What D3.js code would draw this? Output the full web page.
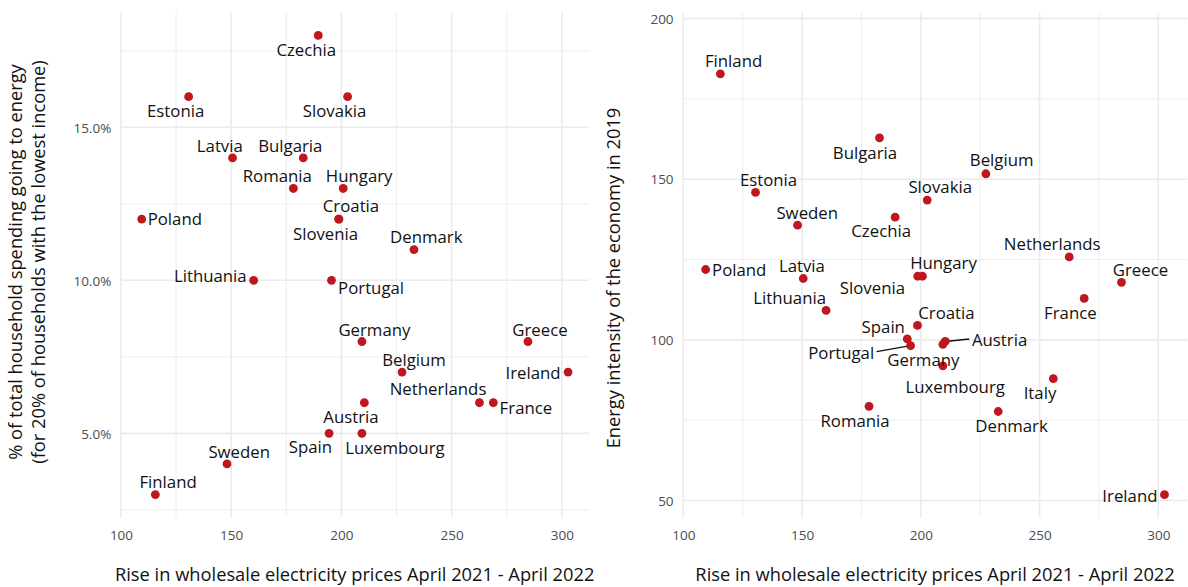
<!DOCTYPE html>
<html>
<head>
<meta charset="utf-8">
<script src="https://cdn.jsdelivr.net/npm/d3@7"></script>
<style>
  html, body { margin: 0; padding: 0; background: #fff; }
  svg { display: block; font-family: "Open Sans", "Noto Sans", sans-serif; }
</style>
</head>
<body>
<svg id="chart" width="1188" height="587"></svg>
<script>
// ---------------- DATA ----------------
// Left panel: rise in wholesale electricity price vs share of spending on energy (lowest 20%)
const leftCountries = ["Czechia","Estonia","Slovakia","Latvia","Bulgaria","Romania","Hungary","Poland","Croatia","Slovenia","Denmark","Lithuania","Portugal","Germany","Greece","Belgium","Ireland","Austria","Netherlands","France","Spain","Luxembourg","Sweden","Finland"];
const leftPriceRise  = [189.5,130.7,202.8,150.6,182.7,178.2,200.8,109.4,198.9,198.7,232.9,160.2,195.5,209.3,284.6,227.5,302.8,210.4,262.6,268.9,194.4,209.3,148.1,115.6];
const leftEnergyShare = [18,16,16,14,14,13,13,12,12,12,11,10,10,8,8,7,7,6,6,6,5,5,4,3];

// Right panel: rise in wholesale electricity price vs energy intensity 2019
const rightCountries = ["Finland","Bulgaria","Belgium","Estonia","Slovakia","Sweden","Czechia","Netherlands","Poland","Hungary","Slovenia","Latvia","Greece","France","Lithuania","Croatia","Spain","Portugal","Austria","Germany","Luxembourg","Italy","Romania","Denmark","Ireland"];
const rightPriceRise = [115.6,182.6,227.4,130.4,202.7,148.1,189.2,262.5,109.4,200.7,198.7,150.5,284.5,268.8,160.1,198.6,194.3,195.7,210.3,209.3,209.3,255.8,178.2,232.6,302.6];
const rightIntensity = [182.8,162.9,151.7,145.9,143.5,135.7,138.2,125.8,121.9,119.8,119.8,119.1,117.9,112.9,109.2,104.5,100.3,98.2,99.5,98.6,91.9,87.9,79.3,77.7,51.8];

// Axis ticks
const xTicks = [100,150,200,250,300];
const xMinor = [125,175,225,275];
const leftYTicks = [5,10,15];
const leftYMinor = [2.5,7.5,12.5,17.5];
const leftYTickLabels = ["5.0%","10.0%","15.0%"];
const rightYTicks = [50,100,150,200];
const rightYMinor = [75,125,175];

const xTitle = "Rise in wholesale electricity prices April 2021 - April 2022";
const leftYTitle = ["% of total household spending going to energy","(for 20% of households with the lowest income)"];
const rightYTitle = "Energy intensity of the economy in 2019";

// ---------------- LABEL LAYOUT (pixel offsets from point: dx, dy of text centre, anchor) ----------------
const leftLabelLayout = {
  Czechia:[-12,14,"middle"], Estonia:[-13,14,"middle"], Slovakia:[-13,14,"middle"],
  Latvia:[-12.7,-12,"middle"], Bulgaria:[-13,-12,"middle"], Romania:[-16,-12.7,"middle"],
  Hungary:[16,-12.7,"middle"], Poland:[6,0,"start"], Croatia:[12,-13,"middle"],
  Slovenia:[-13,14.7,"middle"], Denmark:[12.3,-12.4,"middle"], Lithuania:[-7,-4.7,"end"],
  Portugal:[6.6,8,"start"], Germany:[12.5,-12,"middle"], Greece:[12,-12,"middle"],
  Belgium:[12,-12,"middle"], Ireland:[-7.5,0.5,"end"], Austria:[-13.4,14,"middle"],
  Netherlands:[-41.4,-13.7,"middle"], France:[6.3,5,"start"], Spain:[-18.6,13.4,"middle"],
  Luxembourg:[33,14.4,"middle"], Sweden:[12.2,-12.4,"middle"], Finland:[12.7,-12.6,"middle"]
};
const rightLabelLayout = {
  Finland:[13.2,-12.7,"middle"], Bulgaria:[-14.5,15,"middle"], Belgium:[15.8,-13.4,"middle"],
  Estonia:[13,-12,"middle"], Slovakia:[13,-12.7,"middle"], Sweden:[9.7,-12.7,"middle"],
  Czechia:[-14,14,"middle"], Netherlands:[-17,-13,"middle"], Poland:[6.4,0.7,"start"],
  Hungary:[21,-13.4,"middle"], Slovenia:[-12.7,11.6,"end"], Latvia:[-1.3,-12.3,"middle"],
  Greece:[19,-12,"middle"], France:[-13.8,14.7,"middle"], Lithuania:[-36.4,-12.4,"middle"],
  Croatia:[29,-12.3,"middle"], Spain:[-24,-11.6,"middle"], Portugal:[-36.4,7.3,"end"],
  Austria:[26.7,-1.7,"start"], Germany:[-19.5,16,"middle"], Luxembourg:[12.3,20.7,"middle"],
  Italy:[-13.3,14.3,"middle"], Romania:[-14,14.3,"middle"], Denmark:[13.3,14.6,"middle"],
  Ireland:[-7,1,"end"]
};
const leaderLines = { Portugal:[-34,6], Austria:[24,-2.5] };

// ---------------- DRAW ----------------
const svg = d3.select("#chart");
const pointColor = "#c0161e";
const gridColor = "#ebebeb";
const labelSize = 16.8;
const titleSize = 18.3;
const tickSize = 13.5;
const capShift = 0.36 * labelSize;

function panel(opts) {
  const g = svg.append("g");
  const x = d3.scaleLinear().domain([99.7, 312.3]).range(opts.xRange);
  const y = d3.scaleLinear().domain(opts.yDomain).range([517.5, 12.5]);
  const [x0, x1] = opts.xRange;

  // minor grid
  g.selectAll(".xminor").data(xMinor).join("line")
    .attr("x1", d => x(d)).attr("x2", d => x(d)).attr("y1", 12.5).attr("y2", 517.5)
    .attr("stroke", gridColor).attr("stroke-width", 0.9);
  g.selectAll(".yminor").data(opts.yMinor).join("line")
    .attr("x1", x0).attr("x2", x1).attr("y1", d => y(d)).attr("y2", d => y(d))
    .attr("stroke", gridColor).attr("stroke-width", 0.9);
  // major grid
  g.selectAll(".xmajor").data(xTicks).join("line")
    .attr("x1", d => x(d)).attr("x2", d => x(d)).attr("y1", 12.5).attr("y2", 517.5)
    .attr("stroke", gridColor).attr("stroke-width", 1.6);
  g.selectAll(".ymajor").data(opts.yTicks).join("line")
    .attr("x1", x0).attr("x2", x1).attr("y1", d => y(d)).attr("y2", d => y(d))
    .attr("stroke", gridColor).attr("stroke-width", 1.6);

  // axes (labels only)
  const xAxis = d3.axisBottom(x).tickValues(xTicks).tickSize(0).tickPadding(0);
  const xg = g.append("g").attr("transform", "translate(0,517.5)").call(xAxis);
  xg.select(".domain").remove();
  xg.selectAll("text").attr("dy", null).attr("y", 22.5).attr("fill", "#4d4d4d")
    .style("font-size", tickSize + "px").style("font-family", "Open Sans");

  const yAxis = d3.axisLeft(y).tickValues(opts.yTicks).tickSize(0).tickPadding(0)
    .tickFormat((d, i) => opts.yTickLabels ? opts.yTickLabels[i] : d);
  const yg = g.append("g").attr("transform", `translate(${x0 - 9},0)`).call(yAxis);
  yg.select(".domain").remove();
  yg.selectAll("text").attr("dy", "0.35em").attr("fill", "#4d4d4d")
    .style("font-size", tickSize + "px").style("font-family", "Open Sans");

  // leader lines
  opts.countries.forEach((c, i) => {
    if (opts.leaders && opts.leaders[c]) {
      const px = x(opts.xs[i]), py = y(opts.ys[i]);
      const [lx, ly] = opts.leaders[c];
      g.append("line").attr("x1", px).attr("y1", py).attr("x2", px + lx).attr("y2", py + ly)
        .attr("stroke", "#111").attr("stroke-width", 1.4);
    }
  });

  // points
  g.selectAll("circle").data(opts.countries).join("circle")
    .attr("cx", (d, i) => x(opts.xs[i])).attr("cy", (d, i) => y(opts.ys[i]))
    .attr("r", 4.4).attr("fill", pointColor);

  // labels
  g.selectAll(".lbl").data(opts.countries).join("text")
    .attr("class", "lbl")
    .attr("x", (d, i) => x(opts.xs[i]) + opts.layout[d][0])
    .attr("y", (d, i) => y(opts.ys[i]) + opts.layout[d][1] + capShift)
    .attr("text-anchor", d => opts.layout[d][2])
    .attr("fill", "#111")
    .style("font-size", labelSize + "px")
    .text(d => d);

  // x title
  g.append("text").attr("x", (x0 + x1) / 2).attr("y", 580.5).attr("text-anchor", "middle")
    .attr("fill", "#111").style("font-size", titleSize + "px").text(xTitle);

  return { x, y };
}

panel({
  xRange: [120.3, 589], yDomain: [2.25, 18.75],
  yTicks: leftYTicks, yMinor: leftYMinor, yTickLabels: leftYTickLabels,
  countries: leftCountries, xs: leftPriceRise, ys: leftEnergyShare, layout: leftLabelLayout
});
panel({
  xRange: [682.6, 1187.5], yDomain: [44.7, 201.9],
  yTicks: rightYTicks, yMinor: rightYMinor, yTickLabels: null,
  countries: rightCountries, xs: rightPriceRise, ys: rightIntensity, layout: rightLabelLayout,
  leaders: leaderLines
});

// y titles
const lt = svg.append("text").attr("transform", "translate(0,262) rotate(-90)")
  .attr("text-anchor", "middle").attr("fill", "#111").style("font-size", titleSize + "px");
lt.append("tspan").attr("x", 0).attr("y", 22).text(leftYTitle[0]);
lt.append("tspan").attr("x", 0).attr("y", 44.5).text(leftYTitle[1]);

svg.append("text").attr("transform", "translate(620,278) rotate(-90)")
  .attr("text-anchor", "middle").attr("fill", "#111").style("font-size", titleSize + "px").text(rightYTitle);
</script>
</body>
</html>
